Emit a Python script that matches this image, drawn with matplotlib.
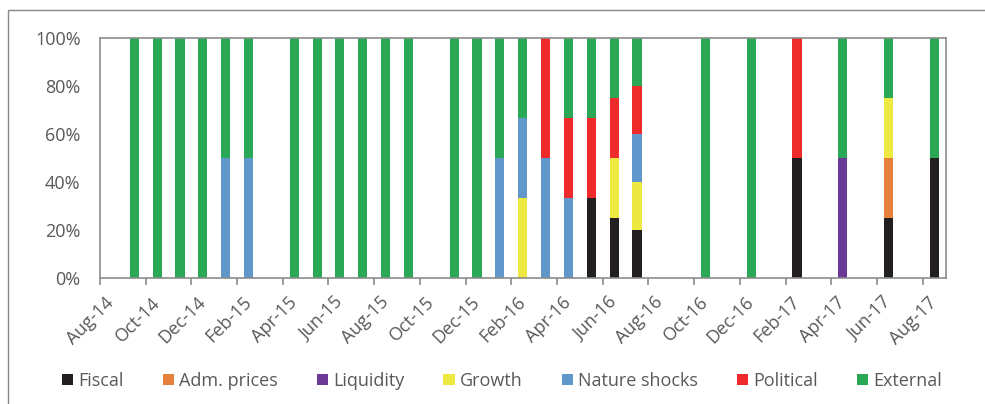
import numpy as np
import matplotlib
matplotlib.use('Agg')
import matplotlib.pyplot as plt
from matplotlib.patches import Patch, Rectangle

# Mesi sull'asse (da Aug-14 a Aug-17)
months = ['Aug-14', 'Sep-14', 'Oct-14', 'Nov-14', 'Dec-14', 'Jan-15', 'Feb-15', 'Mar-15',
          'Apr-15', 'May-15', 'Jun-15', 'Jul-15', 'Aug-15', 'Sep-15', 'Oct-15', 'Nov-15',
          'Dec-15', 'Jan-16', 'Feb-16', 'Mar-16', 'Apr-16', 'May-16', 'Jun-16', 'Jul-16',
          'Aug-16', 'Sep-16', 'Oct-16', 'Nov-16', 'Dec-16', 'Jan-17', 'Feb-17', 'Mar-17',
          'Apr-17', 'May-17', 'Jun-17', 'Jul-17', 'Aug-17']

# Quote (%) per ciascun fattore, una voce per mese
fiscal = [0, 0, 0, 0, 0, 0, 0, 0, 0, 0, 0, 0, 0, 0, 0, 0, 0, 0, 0, 0, 0, 33.3, 25, 20,
          0, 0, 0, 0, 0, 0, 50, 0, 0, 0, 25, 0, 50]
adm_prices = [0, 0, 0, 0, 0, 0, 0, 0, 0, 0, 0, 0, 0, 0, 0, 0, 0, 0, 0, 0, 0, 0, 0, 0,
              0, 0, 0, 0, 0, 0, 0, 0, 0, 0, 25, 0, 0]
liquidity = [0, 0, 0, 0, 0, 0, 0, 0, 0, 0, 0, 0, 0, 0, 0, 0, 0, 0, 0, 0, 0, 0, 0, 0,
             0, 0, 0, 0, 0, 0, 0, 0, 50, 0, 0, 0, 0]
growth = [0, 0, 0, 0, 0, 0, 0, 0, 0, 0, 0, 0, 0, 0, 0, 0, 0, 0, 33.3, 0, 0, 0, 25, 20,
          0, 0, 0, 0, 0, 0, 0, 0, 0, 0, 25, 0, 0]
nature = [0, 0, 0, 0, 0, 50, 50, 0, 0, 0, 0, 0, 0, 0, 0, 0, 0, 50, 33.3, 50, 33.3, 0, 0, 20,
          0, 0, 0, 0, 0, 0, 0, 0, 0, 0, 0, 0, 0]
political = [0, 0, 0, 0, 0, 0, 0, 0, 0, 0, 0, 0, 0, 0, 0, 0, 0, 0, 0, 50, 33.3, 33.3, 25, 20,
             0, 0, 0, 0, 0, 0, 50, 0, 0, 0, 0, 0, 0]
external = [0, 100, 100, 100, 100, 50, 50, 0, 100, 100, 100, 100, 100, 100, 0, 100,
            100, 50, 33.3, 0, 33.3, 33.3, 25, 20, 0, 0, 100, 0, 100, 0, 0, 0, 50, 0, 25, 0, 50]

labels = ['Fiscal', 'Adm. prices', 'Liquidity', 'Growth', 'Nature shocks', 'Political', 'External']
colors = ['#231F20', '#E6803C', '#6B3A96', '#EEE843', '#6297CB', '#EE2A2A', '#2AA855']

plt.rcParams['font.family'] = ['Open Sans', 'DejaVu Sans']
grey_txt = '#595959'
grey_line = '#8C8C8C'

series = np.array([fiscal, adm_prices, liquidity, growth, nature, political, external], dtype=float)
totals = series.sum(axis=0)
totals[totals == 0] = 1
shares = series / totals * 100

fig = plt.figure(figsize=(9.85, 4.04), dpi=100)
ax = fig.add_axes([0.1015, 0.3131, 0.8584, 0.5921])

# Barre impilate al 100%
x = np.arange(len(months)) + 0.5
bottom = np.zeros(len(months))
for vals, col, lab in zip(shares, colors, labels):
    ax.bar(x, vals, width=0.4, bottom=bottom, color=col, label=lab, linewidth=0)
    bottom += vals

ax.set_xlim(0, len(months))
ax.set_ylim(0, 100)
ax.set_yticks(np.arange(0, 101, 20))
ax.set_yticklabels([f'{v}%' for v in range(0, 101, 20)])
ax.tick_params(axis='y', length=0, pad=14, labelsize=13, labelcolor=grey_txt)

# Tacche ai confini dei mesi, etichette al centro del mese
ax.set_xticks(np.arange(0, len(months), 2))
ax.set_xticklabels([])
ax.tick_params(axis='x', which='major', length=5, width=1.2, color=grey_line)
ax.set_xticks(x[::2], minor=True)
ax.set_xticklabels(months[::2], minor=True, rotation=45, ha='right', va='center',
                   rotation_mode='anchor')
ax.tick_params(axis='x', which='minor', length=0, pad=16, labelsize=13, labelcolor=grey_txt)

for s in ax.spines.values():
    s.set_color(grey_line)
    s.set_linewidth(1.2)

# Legenda
handles = [Patch(facecolor=c, edgecolor='none') for c in colors]
fig.legend(handles, labels, loc='center', bbox_to_anchor=(502 / 985, 1 - 381 / 404), ncol=7,
           frameon=False, handlelength=0.62, handleheight=0.62, handletextpad=0.3,
           columnspacing=2.15, fontsize=13, labelcolor=grey_txt)

# Bordo esterno del grafico
fig.patches.append(Rectangle((8 / 985, -0.2), 1.2, 1 - 10 / 404 + 0.2, transform=fig.transFigure,
                             fill=False, edgecolor='#878787', linewidth=1.0))

fig.savefig('out.png', dpi=100)
